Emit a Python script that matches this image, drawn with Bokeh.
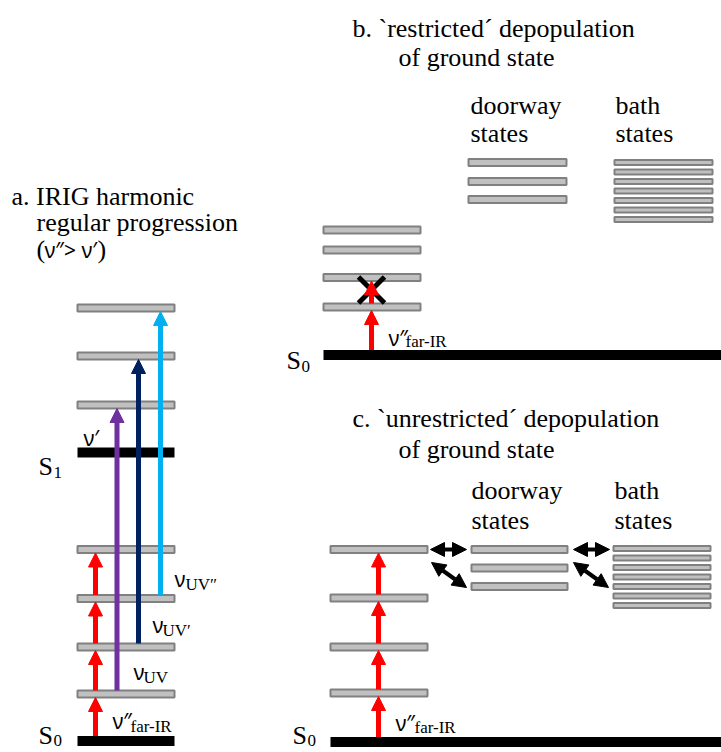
from bokeh.plotting import figure
from bokeh.models import Range1d, Arrow, NormalHead, ColumnDataSource
from bokeh.core.properties import value
from bokeh.embed import file_html
from bokeh.resources import INLINE

W, H = 721, 752

# ---- level scheme (screen units, y grows downward) ----
# panel a: IRIG harmonic regular progression
a_span = (77, 174)
a_ground = 740.5
a_s1 = 452
a_levels_s0 = [693.5, 646.5, 598, 549]
a_levels_s1 = [404.5, 355.5, 307.5]
a_ir_x = 95
a_uv_x = [116.5, 138, 160]
a_uv_from = [693.5, 646.5, 598]
a_uv_to = [404.5, 355.5, 307.5]
a_uv_colors = ["#7030a0", "#002060", "#00b0f0"]

# panel b: restricted depopulation
b_span = (323, 420)
b_ground_span = (323, 721)
b_ground = 354.5
b_levels = [306.5, 277, 249.5, 229.5]
b_ir_x = 371
b_door_span = (468, 566)
b_doorway = [162, 181, 199]
b_bath_span = (614, 712)
b_bath = [162, 171.5, 181, 190.5, 200, 209.5, 219]
b_block = (371, 289.5, 13)   # crossed-out step: centre x, centre y, half size

# panel c: unrestricted depopulation
c_span = (330, 427)
c_ground_span = (330, 721)
c_ground = 741.5
c_levels = [692.5, 646.5, 597.5, 549]
c_ir_x = 378
c_door_span = (471, 567)
c_doorway = [549, 567.5, 586]
c_bath_span = (613, 710)
c_bath = [548, 557.5, 567, 576.5, 586, 595.5, 605]
c_couplings = [  # x0, y0, x1, y1
    (430, 549, 466, 549),
    (573, 549, 609, 549),
    (431, 562, 466, 587),
    (573, 562, 608, 587),
]

LEVEL_H = 7
BATH_H = 5
GROUND_H = 10

SERIF = "'Liberation Serif', 'DejaVu Serif', serif"
SANS = "Noto Sans"

p = figure(width=W, height=H, output_backend="svg", toolbar_location=None,
           x_range=Range1d(0, W), y_range=Range1d(H, 0),
           x_axis_location=None, y_axis_location=None, min_border=0)
p.grid.visible = False
p.outline_line_color = None
p.background_fill_color = "white"
p.border_fill_color = "white"


def add_levels(span, ys, h):
    xl, xr = span
    src = ColumnDataSource(dict(
        left=[xl] * len(ys), right=[xr] * len(ys),
        top=[y - h / 2 for y in ys], bottom=[y + h / 2 for y in ys]))
    p.quad(left="left", right="right", top="top", bottom="bottom", source=src,
           fill_color="#c0c0c0", line_color="#808080", line_width=2)


def add_ground(span, y):
    xl, xr = span
    p.quad(left=[xl], right=[xr], top=[y - GROUND_H / 2], bottom=[y + GROUND_H / 2],
           fill_color="black", line_color=None)


def add_arrows(xs0, ys0, xs1, ys1, color, width, head, both=False):
    src = ColumnDataSource(dict(x0=xs0, y0=ys0, x1=xs1, y1=ys1))
    kw = {}
    if both:
        kw["start"] = NormalHead(size=head, fill_color=color, line_color=color, line_width=1)
    p.add_layout(Arrow(x_start="x0", y_start="y0", x_end="x1", y_end="y1", source=src,
                       line_color=color, line_width=width,
                       end=NormalHead(size=head, fill_color=color, line_color=color, line_width=1),
                       **kw))


def ladder(x, ground, levels, h):
    starts = [ground - GROUND_H / 2] + [y - h / 2 for y in levels[:-1]]
    ends = [y + h / 2 for y in levels]
    return [x] * len(levels), starts, [x] * len(levels), ends


def add_text(xs, ys, texts, font, size, color="black"):
    src = ColumnDataSource(dict(x=xs, y=ys, text=texts))
    p.text(x="x", y="y", text="text", source=src, text_font=value(font),
           text_font_size=value(size), text_color=color,
           text_baseline="alphabetic", text_align="left")


# ---- panel a ----
add_ground(a_span, a_ground)
add_ground(a_span, a_s1)
add_levels(a_span, a_levels_s0 + a_levels_s1, LEVEL_H)
add_arrows(*ladder(a_ir_x, a_ground, a_levels_s0, LEVEL_H), "#ff0000", 5, 14)
for x, y0, y1, col in zip(a_uv_x, a_uv_from, a_uv_to, a_uv_colors):
    add_arrows([x], [y0 - LEVEL_H / 2], [x], [y1 + LEVEL_H / 2], col, 5, 14)

# ---- panel b ----
add_ground(b_ground_span, b_ground)
add_levels(b_span, b_levels, LEVEL_H)
add_levels(b_door_span, b_doorway, LEVEL_H)
add_levels(b_bath_span, b_bath, BATH_H)
bx, bs0, bx1, be = ladder(b_ir_x, b_ground, b_levels[:2], LEVEL_H)
add_arrows(bx, bs0, bx1, be, "#ff0000", 5, 14)
cx, cy, hs = b_block
p.segment(x0=[cx - hs, cx - hs], y0=[cy - hs, cy + hs], x1=[cx + hs, cx + hs],
          y1=[cy + hs, cy - hs], line_color="black", line_width=5)

# ---- panel c ----
add_ground(c_ground_span, c_ground)
add_levels(c_span, c_levels, LEVEL_H)
add_levels(c_door_span, c_doorway, LEVEL_H)
add_levels(c_bath_span, c_bath, BATH_H)
add_arrows(*ladder(c_ir_x, c_ground, c_levels, LEVEL_H), "#ff0000", 5, 14)
add_arrows([c[0] for c in c_couplings], [c[1] for c in c_couplings],
           [c[2] for c in c_couplings], [c[3] for c in c_couplings],
           "black", 4, 14, both=True)

# ---- serif text ----
add_text(
    [11, 36, 36, 97,
     352, 398, 470, 470, 615, 615,
     352, 398, 471, 471, 614, 614],
    [196, 222, 249, 249,
     28, 57, 105, 133, 105, 133,
     418, 449, 490, 520, 490, 520],
    ["a. IRIG harmonic", "regular progression", "(", ")",
     "b. `restricted\u00b4 depopulation", "of ground state", "doorway", "states", "bath", "states",
     "c. `unrestricted\u00b4 depopulation", "of ground state", "doorway", "states", "bath", "states"],
    SERIF, "26px")

# state symbols
add_text([38, 38, 286, 292], [466, 735, 360, 735], ["S", "S", "S", "S"], SERIF, "26px")
add_text([53, 53, 301, 307], [472, 740, 366, 740], ["1", "0", "0", "0"], SERIF, "17px")

# frequency labels (sans nu, serif subscripts)
add_text([44, 83, 174, 152, 133, 112, 388, 395],
         [249, 437, 578, 624, 671, 720, 337, 722],
         ["\u03bd\u2033> \u03bd\u2032", "\u03bd\u2032", "\u03bd", "\u03bd", "\u03bd",
          "\u03bd\u2033", "\u03bd\u2033", "\u03bd\u2033"],
         SANS, "21px")
add_text([185, 162, 143, 130, 405, 414],
         [584, 630, 677, 726, 341, 727],
         ["UV\u2033", "UV\u2032", "UV", "far-IR", "far-IR", "far-IR"],
         SERIF, "17px")

open("out.html", "w").write(file_html(p, INLINE))
